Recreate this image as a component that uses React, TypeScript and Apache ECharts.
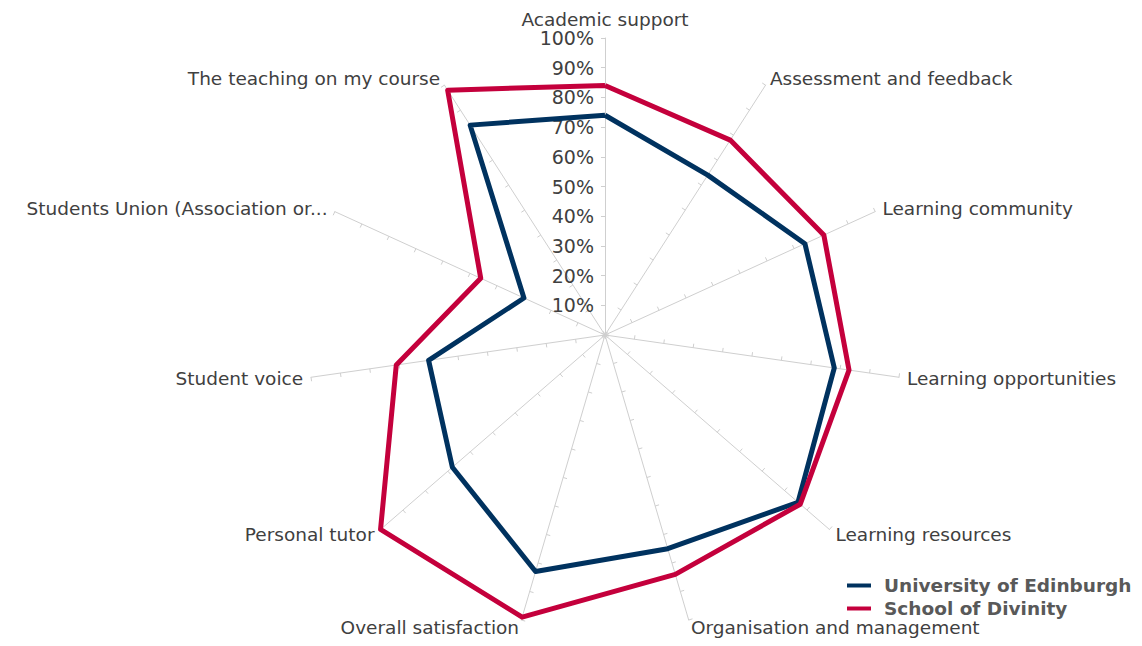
import React, { useEffect, useRef } from "react";
import * as echarts from "echarts";

const categories = [
  "Academic support",
  "Assessment and feedback",
  "Learning community",
  "Learning opportunities",
  "Learning resources",
  "Organisation and management",
  "Overall satisfaction",
  "Personal tutor",
  "Student voice",
  "Students Union (Association or...",
  "The teaching on my course",
];
const edinburgh = [74, 64, 74, 78, 86, 75, 83, 68, 60, 30, 84];
const divinity = [84, 78, 81, 83, 87, 84, 99, 100, 71, 46, 98];
const seriesNames = ["University of Edinburgh", "School of Divinity"];
const tickValues = [0, 10, 20, 30, 40, 50, 60, 70, 80, 90, 100];

// ECharts lays indicators out counter-clockwise; reorder for clockwise display
const order = [0, ...categories.slice(1).map((_, i) => categories.length - 1 - i)];

export default function App() {
  const ref = useRef<HTMLDivElement>(null);
  useEffect(() => {
    document.body.style.margin = "0";
    const chart = echarts.init(ref.current!, null, { renderer: "svg" });
    const font = "DejaVu Sans";
    chart.setOption({
      animation: false,
      textStyle: { fontFamily: font },
      legend: {
        orient: "vertical",
        left: 842,
        top: 571,
        itemWidth: 24,
        itemHeight: 4,
        itemGap: 4,
        icon: "rect",
        data: seriesNames,
        textStyle: {
          fontFamily: font,
          fontSize: 18.5,
          fontWeight: "bold",
          color: "#595959",
          padding: [0, 0, 0, 8],
        },
      },
      radar: {
        center: [605, 335],
        radius: 297,
        startAngle: 90,
        splitNumber: tickValues.length - 1,
        shape: "polygon",
        nameGap: 8,
        axisName: { color: "#404040", fontSize: 18.5, fontFamily: font },
        indicator: order.map((i) => ({
          name: categories[i],
          min: tickValues[0],
          max: tickValues[tickValues.length - 1],
          ...(i === 0
            ? {
                axisLabel: {
                  show: true,
                  color: "#404040",
                  fontSize: 19,
                  fontFamily: font,
                  margin: 11,
                  formatter: (v: number) => (v === 0 ? "" : v + "%"),
                },
              }
            : {}),
        })),
        axisLine: { show: true, lineStyle: { color: "#cfcfcf", width: 1 } },
        axisTick: { show: true, length: 4, lineStyle: { color: "#cfcfcf" } },
        axisLabel: { show: false },
        splitLine: { show: false },
        splitArea: { show: false },
      },
      series: [
        {
          type: "radar",
          symbol: "none",
          data: [
            {
              name: seriesNames[0],
              value: order.map((i) => edinburgh[i]),
              lineStyle: { color: "#00325F", width: 5 },
              itemStyle: { color: "#00325F" },
            },
            {
              name: seriesNames[1],
              value: order.map((i) => divinity[i]),
              lineStyle: { color: "#C4003C", width: 5 },
              itemStyle: { color: "#C4003C" },
            },
          ],
        },
      ],
    });
    return () => chart.dispose();
  }, []);
  return <div ref={ref} style={{ width: 1142, height: 646 }} />;
}
